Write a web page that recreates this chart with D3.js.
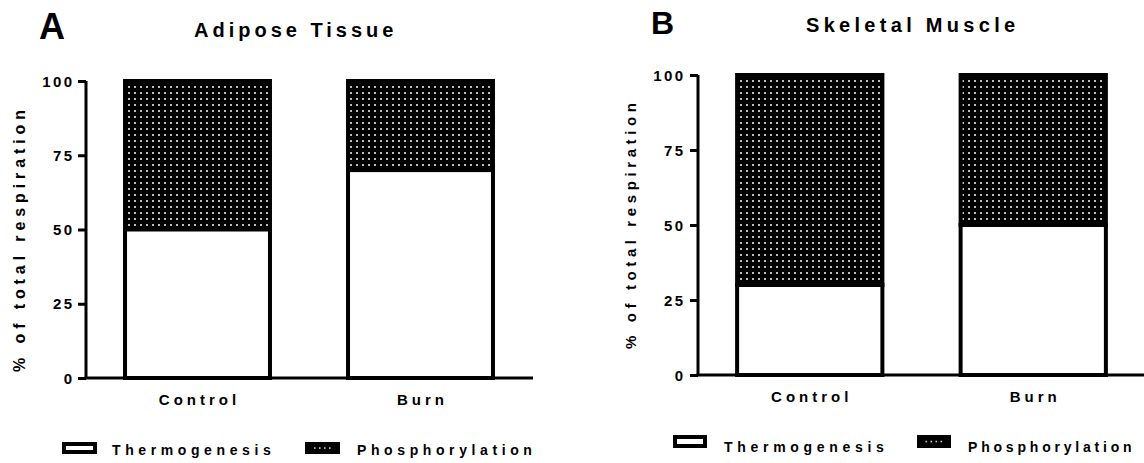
<!DOCTYPE html>
<html><head><meta charset="utf-8">
<script src="https://cdn.jsdelivr.net/npm/d3@7"></script>
<style>
html,body{margin:0;padding:0;background:#fff;}
svg{display:block;font-family:"Liberation Sans",Arial,sans-serif;font-weight:bold;}
</style></head>
<body>
<svg id="chart" width="1144" height="463"></svg>
<script>
const categories = ["Control", "Burn"];
const seriesNames = ["Thermogenesis", "Phosphorylation"];
const adiposeThermogenesis = [50, 70];
const adiposePhosphorylation = [50, 30];
const muscleThermogenesis = [30, 50];
const musclePhosphorylation = [70, 50];
const yTickValues = [0, 25, 50, 75, 100];
const yLabel = "% of total respiration";

const svg = d3.select("#chart");
const defs = svg.append("defs");
const pat = defs.append("pattern").attr("id", "dots").attr("patternUnits", "userSpaceOnUse")
  .attr("width", 6).attr("height", 6);
pat.append("rect").attr("width", 6).attr("height", 6).attr("fill", "#000");
pat.append("rect").attr("x", 2).attr("y", 2).attr("width", 2).attr("height", 2).attr("fill", "#bdbdbd");

function txt(g, s, x, y, size, ls, anchor) {
  let dx = 0;
  if (anchor === "middle") dx = ls / 2;
  if (anchor === "end") dx = ls;
  return g.append("text").attr("x", x + dx).attr("y", y).attr("font-size", size)
    .attr("letter-spacing", ls).attr("text-anchor", anchor || "start").attr("fill", "#000").text(s);
}

function panel(cfg) {
  const g = svg.append("g");
  const x = d3.scaleBand().domain(categories).range(cfg.xRange).paddingInner(0.35).paddingOuter(0.175);
  const y = d3.scaleLinear().domain([0, 100]).range(cfg.yRange);

  txt(g, cfg.letter, cfg.letterX, cfg.letterY, cfg.letterSize, 0, "start");
  txt(g, cfg.title, cfg.titleX, cfg.titleY, 20, cfg.titleLs, "start");

  const data = categories.map((c, i) => ({c, t: cfg.thermo[i], p: cfg.phos[i]}));
  g.selectAll(".phos").data(data).enter().append("rect")
    .attr("x", d => x(d.c)).attr("width", x.bandwidth())
    .attr("y", d => y(d.t + d.p)).attr("height", d => y(d.t) - y(d.t + d.p))
    .attr("fill", "url(#dots)").attr("stroke", "#000").attr("stroke-width", 4);
  g.selectAll(".thermo").data(data).enter().append("rect")
    .attr("x", d => x(d.c)).attr("width", x.bandwidth())
    .attr("y", d => y(d.t)).attr("height", d => y(0) - y(d.t))
    .attr("fill", "#fff").attr("stroke", "#000").attr("stroke-width", 4);

  const yAxis = d3.axisLeft(y).tickValues(yTickValues).tickSize(8).tickFormat("");
  const ya = g.append("g").attr("transform", `translate(${cfg.xRange[0]},0)`).call(yAxis);
  ya.select(".domain").attr("stroke-width", 3).attr("d", `M-0,${cfg.yRange[1]}V${cfg.yRange[0]}`);
  ya.selectAll(".tick line").attr("stroke-width", 3);
  yTickValues.forEach(v => txt(g, String(v), cfg.tickRight, y(v) + 5.5, 15, 2.3, "end"));

  g.append("line").attr("x1", cfg.xRange[0] - 1.5).attr("x2", cfg.xAxisEnd)
    .attr("y1", y(0)).attr("y2", y(0)).attr("stroke", "#000").attr("stroke-width", 3);
  categories.forEach(c => txt(g, c, x(c) + x.bandwidth() / 2, cfg.catY, 15, 4.0, "middle"));

  const yl = g.append("g").attr("transform", `translate(${cfg.yLabelX},${cfg.yLabelY}) rotate(-90)`);
  txt(yl, yLabel, 0, 0, cfg.yLabelSize, cfg.yLabelLs, "middle");

  const lg = cfg.legend;
  g.append("rect").attr("x", lg.box1).attr("y", lg.boxY).attr("width", lg.boxW).attr("height", lg.boxH)
    .attr("fill", "#fff").attr("stroke", "#000").attr("stroke-width", 4);
  txt(g, seriesNames[0], lg.text1, lg.textY, 14, lg.ls1, "start");
  g.append("rect").attr("x", lg.box2).attr("y", lg.boxY).attr("width", lg.boxW).attr("height", lg.boxH)
    .attr("fill", "#000").attr("stroke", "#000").attr("stroke-width", 4);
  [0, 1, 2, 3].forEach(k => g.append("rect").attr("x", lg.box2 + lg.boxW / 2 - 8.5 + k * 5)
    .attr("y", lg.boxY + lg.boxH / 2 - 0.75).attr("width", 1.6).attr("height", 1.6).attr("fill", "#ccc"));
  txt(g, seriesNames[1], lg.text2, lg.textY, 14, lg.ls2, "start");
}

panel({
  letter: "A", letterX: 39, letterY: 39, letterSize: 36,
  title: "Adipose Tissue", titleX: 194, titleY: 37, titleLs: 4.0,
  thermo: adiposeThermogenesis, phos: adiposePhosphorylation,
  xRange: [86, 532], yRange: [378, 81], xAxisEnd: 533, tickRight: 72, catY: 405,
  yLabelX: 25, yLabelY: 241, yLabelSize: 16, yLabelLs: 4.9,
  legend: {box1: 64, box2: 307, boxY: 444, boxW: 31, boxH: 8, text1: 112, text2: 357, textY: 455, ls1: 4.6, ls2: 4.6}
});
panel({
  letter: "B", letterX: 651, letterY: 34, letterSize: 32,
  title: "Skeletal Muscle", titleX: 806, titleY: 32, titleLs: 4.3,
  thermo: muscleThermogenesis, phos: musclePhosphorylation,
  xRange: [698, 1145], yRange: [375, 75], xAxisEnd: 1144, tickRight: 683, catY: 402,
  yLabelX: 636, yLabelY: 226, yLabelSize: 15, yLabelLs: 4.6,
  legend: {box1: 675, box2: 919, boxY: 437, boxW: 30, boxH: 9, text1: 724, text2: 968, textY: 452, ls1: 4.7, ls2: 3.8}
});
</script>
</body></html>
